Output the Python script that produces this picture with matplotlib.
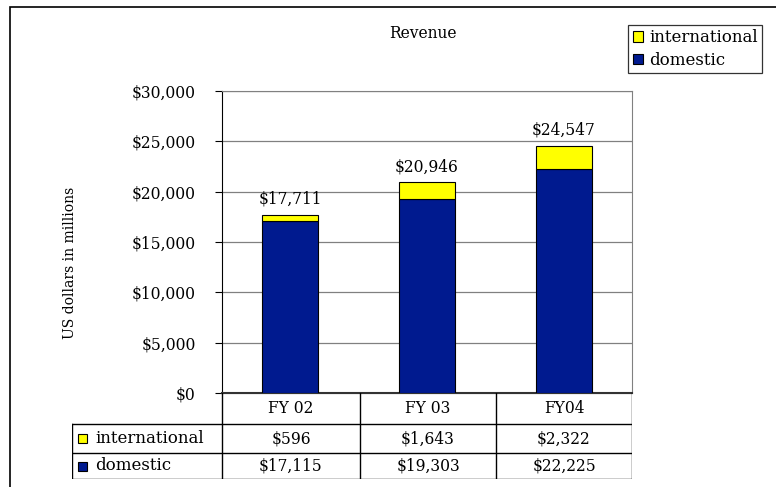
import matplotlib
matplotlib.use("Agg")
import matplotlib.pyplot as plt
from matplotlib.patches import Patch, Rectangle

plt.rcParams['font.family'] = ['DejaVu Serif']

# Data
years = ["FY 02", "FY 03", "FY04"]
international = [596, 1643, 2322]
domestic = [17115, 19303, 22225]
series_names = ["international", "domestic"]
yellow = "#FFFF00"
navy = "#001A8F"

W, H = 776, 487
FS = 11.2     # general text size
FS_LAB = 12   # legend / table row labels


def px(x0, y0, x1, y1):
    # pixel box -> figure fraction rect
    return [x0 / W, 1 - y1 / H, (x1 - x0) / W, (y1 - y0) / H]


fig = plt.figure(figsize=(W / 100, H / 100), dpi=100)

# outer frame (clipped at right and bottom like the source)
fig.patches.append(Rectangle((10 / W, -0.1), 2, 1 - 7 / H + 0.1, transform=fig.transFigure,
                             fill=False, edgecolor="black", linewidth=1.2))

# Main chart
ax = fig.add_axes(px(222, 91, 632, 393))
x = list(range(len(years)))
ax.bar(x, domestic, width=0.41, color=navy, edgecolor="black", linewidth=0.8, zorder=3)
ax.bar(x, international, width=0.41, bottom=domestic, color=yellow, edgecolor="black",
       linewidth=0.8, zorder=3)

totals = [d + i for d, i in zip(domestic, international)]
for xi, t in zip(x, totals):
    ax.annotate(f"${t:,}", (xi, t), xytext=(0, 5), textcoords="offset points",
                ha="center", va="bottom", fontsize=FS)

ax.set_xlim(-0.5, 2.5)
ax.set_ylim(0, 30000)
ax.set_yticks(range(0, 30001, 5000))
ax.set_yticklabels([f"${v:,}" for v in range(0, 30001, 5000)], fontsize=FS)
ax.set_xticks([])
ax.tick_params(axis="y", direction="out", length=5, width=0.8, pad=14)
ax.grid(axis="y", color="#808080", linewidth=0.9, zorder=0)
ax.spines["top"].set_color("#808080")
ax.spines["right"].set_color("#808080")
ax.spines["left"].set_color("black")
ax.spines["bottom"].set_color("#333333")
ax.spines["bottom"].set_linewidth(1.5)

fig.text(423 / W, 1 - 33 / H, "Revenue", ha="center", va="center", fontsize=FS)
fig.text(70 / W, 1 - 263 / H, "US dollars in millions", rotation=90,
         ha="center", va="center", fontsize=10)

# Legend
handles = [Patch(facecolor=yellow, edgecolor="black", linewidth=0.8),
           Patch(facecolor=navy, edgecolor="black", linewidth=0.8)]
leg = fig.legend(handles, series_names, loc="upper right",
                 bbox_to_anchor=(762 / W, 1 - 25 / H), fontsize=FS_LAB,
                 frameon=True, fancybox=False, edgecolor="black",
                 handlelength=0.6, handleheight=0.6, handletextpad=0.4,
                 borderpad=0.25, labelspacing=0.35, borderaxespad=0)
leg.get_frame().set_linewidth(0.9)

# Data table under the chart
tab = fig.add_axes(px(72, 393, 632, 479))
tab.set_xlim(0, 560)
tab.set_ylim(86, 0)
tab.axis("off")
col_edges = [0, 150, 288, 424, 560]
row_edges = [0, 31, 60, 86]

lw = 1.0
# horizontal lines
tab.plot([150, 560], [0, 0], color="#333333", lw=1.5)
tab.plot([0, 560], [31, 31], color="black", lw=lw)
tab.plot([0, 560], [60, 60], color="black", lw=lw)
tab.plot([0, 560], [86, 86], color="black", lw=lw)
# vertical lines
tab.plot([0, 0], [31, 86], color="black", lw=lw)
for ce in col_edges[1:]:
    tab.plot([ce, ce], [0, 86], color="black", lw=lw)

for j, yr in enumerate(years):
    cx = (col_edges[j + 1] + col_edges[j + 2]) / 2
    tab.text(cx, (row_edges[0] + row_edges[1]) / 2, yr, ha="center", va="center", fontsize=FS)

rows = [international, domestic]
colors = [yellow, navy]
for r, (name, vals, c) in enumerate(zip(series_names, rows, colors)):
    cy = (row_edges[r + 1] + row_edges[r + 2]) / 2
    tab.add_patch(Rectangle((6, cy - 4.5), 9, 9, facecolor=c, edgecolor="black", lw=0.8))
    tab.text(23, cy, name, ha="left", va="center", fontsize=FS_LAB)
    for j, v in enumerate(vals):
        cx = (col_edges[j + 1] + col_edges[j + 2]) / 2
        tab.text(cx, cy, f"${v:,}", ha="center", va="center", fontsize=FS)

fig.savefig("out.png", dpi=100)
